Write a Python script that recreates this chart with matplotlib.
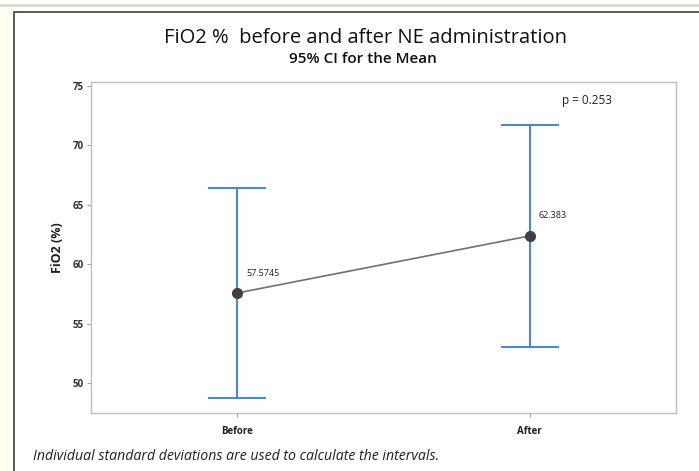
import matplotlib.pyplot as plt
from matplotlib.patches import Rectangle

# data
groups = ['Before', 'After']
means = [57.5745, 62.383]
ci_low = [48.74, 53.05]
ci_high = [66.41, 71.70]
mean_labels = ['57.5745', '62.383']
p_text = 'p = 0.253'

plt.rcParams['font.family'] = ['Open Sans', 'DejaVu Sans']

fig = plt.figure(figsize=(6.99, 4.71), dpi=100)
fig.patch.set_facecolor('#fffff2')
W, H = 699, 471

# outer frame of the graph window
fig.patches.append(Rectangle((0, 1 - 7 / H), 1, 3 / H, transform=fig.transFigure,
                             facecolor='#d9d9d9', edgecolor='none', zorder=-2))
fig.patches.append(Rectangle((14 / W, -0.01), 1, 1 - 12 / H + 0.01, transform=fig.transFigure,
                             facecolor='white', edgecolor='#404040', linewidth=1.2, zorder=-2))

ax = fig.add_axes([91 / W, 1 - 413 / H, 585 / W, 331 / H])
x = list(range(len(groups)))

for xi, m, lo, hi in zip(x, means, ci_low, ci_high):
    ax.plot([xi, xi], [lo, hi], color='#4a89cc', lw=1.5, zorder=2)
    ax.plot([xi - 0.096, xi + 0.096], [lo, lo], color='#4a89cc', lw=1.5, zorder=2)
    ax.plot([xi - 0.096, xi + 0.096], [hi, hi], color='#4a89cc', lw=1.5, zorder=2)

ax.plot(x, means, color='#707070', lw=1.2, zorder=3)
ax.plot(x, means, 'o', color='#404040', markersize=7, zorder=4)

for xi, m, lab in zip(x, means, mean_labels):
    ax.text(xi + 0.03, m + 1.3, lab, fontsize=6.5, ha='left', va='bottom', color='#202020')

ax.text(1.11, 73.75, p_text, fontsize=8.5, ha='left', va='center', color='#202020')

ax.set_xlim(-0.5, 1.5)
ax.set_ylim(47.47, 75.34)
ax.set_yticks([50, 55, 60, 65, 70, 75])
ax.set_xticks(x)
ax.set_xticklabels(groups, fontsize=7, fontweight='bold', color='#202020')
for t in ax.get_yticklabels():
    t.set_fontsize(7)
    t.set_fontweight('bold')
    t.set_color('#303030')
ax.tick_params(axis='both', direction='out', length=3, color='#a0a0a0', width=0.8, pad=2)
ax.tick_params(axis='x', pad=6)
for s in ax.spines.values():
    s.set_color('#c0c0c0')
    s.set_linewidth(1.0)

ax.set_ylabel('FiO2 (%)', fontsize=9, fontweight='bold', color='#202020', labelpad=6)

fig.text(365 / W, 1 - 38 / H, 'FiO2 %  before and after NE administration',
         fontsize=14.5, ha='center', va='center', color='#101010')
fig.text(363 / W, 1 - 59 / H, '95% CI for the Mean',
         fontsize=11, fontweight='semibold', ha='center', va='center', color='#101010')
fig.text(33 / W, 1 - 456 / H, 'Individual standard deviations are used to calculate the intervals.',
         fontsize=10.2, style='italic', ha='left', va='center', color='#202020')

fig.savefig('out.png', dpi=100, facecolor=fig.get_facecolor())
